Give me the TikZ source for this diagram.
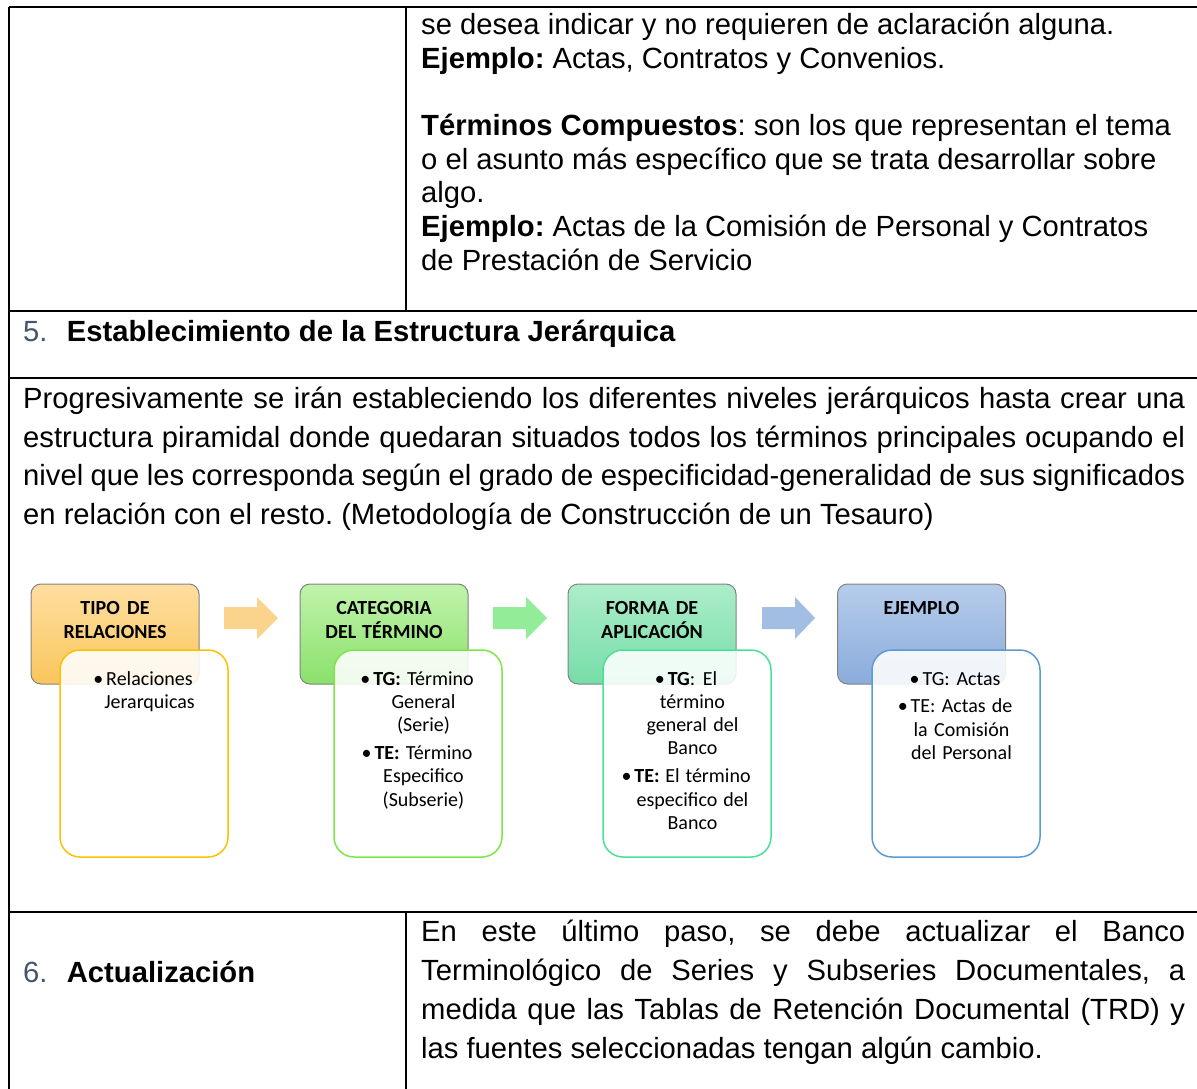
\documentclass[tikz,border=0pt]{standalone}
\usepackage{fontspec}
\setmainfont{Liberation Sans}
\newfontfamily\calibri{Carlito}
\usepackage{tikz}

\definecolor{numgray}{RGB}{68,84,106}
\definecolor{boxgray}{RGB}{130,130,130}
\definecolor{orgtop}{RGB}{254,222,160}
\definecolor{orgbot}{RGB}{249,198,92}
\definecolor{grntop}{RGB}{192,243,172}
\definecolor{grnbot}{RGB}{138,225,106}
\definecolor{teltop}{RGB}{172,237,202}
\definecolor{telbot}{RGB}{118,221,168}
\definecolor{blutop}{RGB}{182,204,235}
\definecolor{blubot}{RGB}{138,172,219}
\definecolor{orgline}{RGB}{255,192,0}
\definecolor{grnline}{RGB}{124,230,70}
\definecolor{telline}{RGB}{72,226,150}
\definecolor{bluline}{RGB}{91,155,213}
\definecolor{arrowA}{RGB}{250,212,140}
\definecolor{arrowB}{RGB}{146,236,152}
\definecolor{arrowC}{RGB}{162,190,226}

\newcommand{\wordgap}{\spaceskip=0pt \xspaceskip=0pt \frenchspacing}
\newcommand{\itembul}{\leavevmode\llap{\textbullet\hspace{3pt}}}

\begin{document}
\begin{tikzpicture}[x=1pt,y=1pt]
        \tikzstyle{every node}+=[inner sep=0pt, execute at begin node=\wordgap]
        \tikzstyle{hdrbox}=[draw=boxgray, line width=1pt, rounded corners=10pt, minimum width=168pt, minimum height=100pt]
        \tikzstyle{subbox}=[line width=1.5pt, rounded corners=20pt, fill=white, fill opacity=0.88, minimum width=168pt, minimum height=207pt]
        \tikzstyle{hdrtext}=[font=\calibri\bfseries\fontsize{20}{24}\selectfont, text width=168pt, align=center, anchor=base]
        \tikzstyle{subtext}=[font=\calibri\fontsize{20}{23.3}\selectfont, text width=160pt, align=center, anchor=base]
        \tikzstyle{celltext}=[font=\fontsize{29.2}{33.7}\selectfont, anchor=base west, align=left]
        \useasboundingbox (0,0) rectangle (1197,-1089);
        % table rules
        \draw [black, line width=2pt] (9,-7) -- (1197,-7);
        \draw [black, line width=2pt] (9,-7) -- (9,-1089);
        \draw [black, line width=2pt] (406,-7) -- (406,-311);
        \draw [black, line width=2pt] (9,-311) -- (1197,-311);
        \draw [black, line width=2pt] (9,-378) -- (1197,-378);
        \draw [black, line width=2pt] (9,-912) -- (1197,-912);
        \draw [black, line width=2pt] (406,-912) -- (406,-1089);
        % table texts
        \node [celltext, text width=770pt] (termtext) at (421,-34.5) {se desea indicar y no requieren de aclaración alguna.\\
          \textbf{Ejemplo:} Actas, Contratos y Convenios.\\[33.7pt]
          \textbf{Términos Compuestos}: son los que representan el tema\\
          o el asunto más específico que se trata desarrollar sobre\\
          algo.\\
          \textbf{Ejemplo:} Actas de la Comisión de Personal y Contratos\\
          de Prestación de Servicio};
        \node [celltext] (step5) at (23,-341) {\makebox[43.7pt][l]{\color{numgray}5.}\textbf{Establecimiento de la Estructura Jerárquica}};
        \node [celltext, text width=1170pt, font=\fontsize{29.2}{38.5}\selectfont] (steptext) at (23,-408.5) {%
          \makebox[1162pt][s]{Progresivamente se irán estableciendo los diferentes niveles jerárquicos hasta crear una}\\
          \makebox[1162pt][s]{estructura piramidal donde quedaran situados todos los términos principales ocupando el}\\
          \makebox[1162pt][s]{nivel que les corresponda según el grado de especificidad-generalidad de sus significados}\\
          en relación con el resto. (Metodología de Construcción de un Tesauro)};
        \node [celltext] (step6) at (23,-982) {\makebox[43.7pt][l]{\color{numgray}6.}\textbf{Actualización}};
        \node [celltext, text width=770pt, font=\fontsize{29.2}{39.1}\selectfont] (updtext) at (421,-941) {%
          \makebox[764pt][s]{En este último paso, se debe actualizar el Banco}\\
          \makebox[764pt][s]{Terminológico de Series y Subseries Documentales, a}\\
          \makebox[764pt][s]{medida que las Tablas de Retención Documental (TRD) y}\\
          las fuentes seleccionadas tengan algún cambio.};
        % header boxes
        \node [hdrbox, top color=orgtop, bottom color=orgbot] (hdrA) at (115,-634) {};
        \node [hdrbox, top color=grntop, bottom color=grnbot] (hdrB) at (384,-634) {};
        \node [hdrbox, top color=teltop, bottom color=telbot] (hdrC) at (652,-634) {};
        \node [hdrbox, top color=blutop, bottom color=blubot] (hdrD) at (921.5,-634) {};
        \node [hdrtext] (titA) at (115,-614) {TIPO DE\\RELACIONES};
        \node [hdrtext] (titB) at (384,-614) {CATEGORIA\\DEL TÉRMINO};
        \node [hdrtext] (titC) at (652,-614) {FORMA DE\\APLICACIÓN};
        \node [hdrtext] (titD) at (921.5,-614) {EJEMPLO};
        % block arrows
        \fill [arrowA] (224,-607) -- (257,-607) -- (257,-597) -- (278,-618) -- (257,-639) -- (257,-629) -- (224,-629) -- cycle;
        \fill [arrowB] (493,-607) -- (526,-607) -- (526,-597) -- (547,-618) -- (526,-639) -- (526,-629) -- (493,-629) -- cycle;
        \fill [arrowC] (762,-607) -- (795,-607) -- (795,-597) -- (815,-618) -- (795,-639) -- (795,-629) -- (762,-629) -- cycle;
        % detail boxes
        \node [subbox, draw=orgline] (subA) at (144,-753.5) {};
        \node [subbox, draw=grnline] (subB) at (418,-753.5) {};
        \node [subbox, draw=telline] (subC) at (687,-753.5) {};
        \node [subbox, draw=bluline] (subD) at (956,-753.5) {};
        \node [subtext] (lstA) at (149.5,-685) {\itembul Relaciones\\ Jerarquicas};
        \node [subtext] (lstB) at (423.5,-685) {\itembul\textbf{TG:} Término\\ General\\ (Serie)\\[4.5pt]
          \itembul\textbf{TE:} Término\\ Especifico\\ (Subserie)};
        \node [subtext] (lstC) at (692.5,-685) {\itembul\textbf{TG}: El\\ término\\ general del\\ Banco\\[4.5pt]
          \itembul\textbf{TE:} El término\\ especifico del\\ Banco};
        \node [subtext] (lstD) at (961.5,-685) {\itembul TG: Actas\\[4.5pt]
          \itembul TE: Actas de\\ la Comisión\\ del Personal};
    \end{tikzpicture}
\end{document}
